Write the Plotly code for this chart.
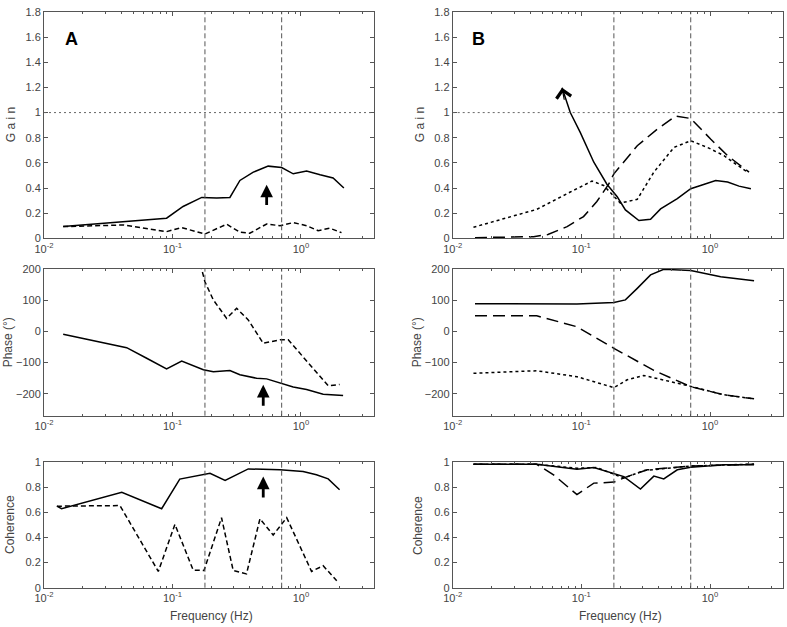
import plotly.graph_objects as go
import numpy as np

# band limits (Hz) marked with vertical dashed lines
bandLow = 0.179
bandHigh = 0.708

# x tick labels
xTickVals = [0.01, 0.1, 1]
xTickText = ["10<sup>-2</sup>", "10<sup>-1</sup>", "10<sup>0</sup>"]
xMinorVals = [0.02, 0.03, 0.04, 0.05, 0.06, 0.07, 0.08, 0.09, 0.2, 0.3, 0.4, 0.5, 0.6, 0.7, 0.8, 0.9, 2, 3]

# Panel A - gain
aGainSolidF = [0.0141, 0.0467, 0.090, 0.121, 0.169, 0.221, 0.28, 0.335, 0.426, 0.556, 0.708, 0.871, 1.107, 1.41, 1.78, 2.16]
aGainSolid = [0.093, 0.14, 0.16, 0.253, 0.325, 0.32, 0.325, 0.46, 0.526, 0.574, 0.563, 0.513, 0.536, 0.505, 0.48, 0.40]
aGainDashF = [0.0141, 0.0414, 0.090, 0.118, 0.179, 0.264, 0.335, 0.40, 0.541, 0.687, 0.871, 1.107, 1.36, 1.68, 2.07]
aGainDash = [0.093, 0.106, 0.053, 0.085, 0.034, 0.112, 0.048, 0.04, 0.114, 0.10, 0.125, 0.10, 0.061, 0.08, 0.045]

# Panel A - phase
aPhaseSolidF = [0.0141, 0.044, 0.063, 0.090, 0.118, 0.174, 0.208, 0.28, 0.335, 0.452, 0.541, 0.708, 0.871, 1.107, 1.49, 2.13]
aPhaseSolid = [-9, -52, -86, -120, -95, -123, -129, -125, -139, -150, -152, -168, -178, -186, -201, -205]
aPhaseDashF = [0.165, 0.179, 0.208, 0.264, 0.316, 0.389, 0.509, 0.687, 0.797, 1.63, 2.0]
aPhaseDash = [215, 159, 101, 42, 74, 37, -38, -27, -27, -174, -170]

# Panel A - coherence
aCohSolidF = [0.0126, 0.0137, 0.0403, 0.0824, 0.114, 0.196, 0.257, 0.335, 0.389, 0.687, 1.04, 1.32, 1.63, 2.0]
aCohSolid = [0.65, 0.63, 0.76, 0.63, 0.866, 0.913, 0.855, 0.913, 0.947, 0.94, 0.926, 0.90, 0.868, 0.781]
aCohDashF = [0.0126, 0.039, 0.0776, 0.1045, 0.145, 0.176, 0.241, 0.297, 0.377, 0.48, 0.608, 0.775, 1.21, 1.49, 1.9]
aCohDash = [0.65, 0.655, 0.13, 0.505, 0.14, 0.137, 0.558, 0.137, 0.11, 0.55, 0.42, 0.558, 0.13, 0.175, 0.055]

# Panel B - gain
bGainSolidF = [0.0708, 0.082, 0.098, 0.125, 0.158, 0.19, 0.22, 0.28, 0.345, 0.413, 0.557, 0.708, 1.107, 1.37, 1.68, 2.08]
bGainSolid = [1.197, 1.0, 0.842, 0.605, 0.43, 0.33, 0.226, 0.141, 0.152, 0.234, 0.315, 0.394, 0.46, 0.447, 0.415, 0.394]
bGainLongF = [0.0149, 0.0425, 0.055, 0.0775, 0.104, 0.132, 0.163, 0.179, 0.272, 0.389, 0.541, 0.708, 1.01, 1.37, 2.01]
bGainLong = [0.005, 0.013, 0.03, 0.093, 0.173, 0.293, 0.43, 0.513, 0.736, 0.868, 0.973, 0.953, 0.79, 0.657, 0.526]
bGainDotF = [0.0145, 0.045, 0.082, 0.121, 0.149, 0.201, 0.272, 0.366, 0.525, 0.708, 0.955, 1.285, 1.95]
bGainDot = [0.088, 0.23, 0.368, 0.455, 0.42, 0.28, 0.31, 0.526, 0.723, 0.776, 0.723, 0.657, 0.526]

# Panel B - phase
bPhaseSolidF = [0.0149, 0.0924, 0.179, 0.22, 0.272, 0.345, 0.437, 0.708, 1.21, 2.2]
bPhaseSolid = [89, 88, 93, 101, 138, 181, 199, 195, 175, 162]
bPhaseLongF = [0.0149, 0.045, 0.0924, 0.179, 0.366, 0.708, 1.285, 2.2]
bPhaseLong = [50, 50, 15, -54, -125, -177, -203, -216]
bPhaseDotF = [0.0145, 0.045, 0.0924, 0.179, 0.227, 0.306, 0.708, 1.285, 2.2]
bPhaseDot = [-134, -126, -145, -180, -155, -141, -176, -203, -216]

# Panel B - coherence
bCohSolidF = [0.0145, 0.045, 0.0924, 0.125, 0.214, 0.288, 0.366, 0.437, 0.557, 0.708, 1.285, 2.2]
bCohSolid = [0.984, 0.984, 0.945, 0.958, 0.886, 0.787, 0.89, 0.868, 0.94, 0.96, 0.98, 0.98]
bCohLongF = [0.0145, 0.045, 0.0608, 0.0924, 0.125, 0.179, 0.227, 0.325, 0.708, 2.2]
bCohLong = [0.984, 0.984, 0.9, 0.742, 0.834, 0.842, 0.886, 0.94, 0.97, 0.984]
bCohDotF = [0.0145, 0.045, 0.0924, 0.132, 0.214, 0.306, 0.708, 2.2]
bCohDot = [0.984, 0.984, 0.953, 0.958, 0.874, 0.934, 0.97, 0.986]

# arrows in panel A (frequency, tail value, head value)
aGainArrow = [0.541, 0.253, 0.426]
aPhaseArrow = [0.509, -243, -171]
aCohArrow = [0.509, 0.708, 0.886]

W, H = 787, 627
font = "Liberation Sans, Arial, sans-serif"
frame = "#555"

def px(v):
    return v / W

def py(v):
    return 1 - v / H

fig = go.Figure()

# subplot boxes in pixels -> paper fractions
colX = [(44, 373.5), (452.7, 782.7)]
rowY = [(12, 238.3), (269, 415.7), (462.3, 587.7)]
yRanges = [[0, 1.8], [-270, 200], [0, 1]]
yTicks = [[0, 0.2, 0.4, 0.6, 0.8, 1, 1.2, 1.4, 1.6, 1.8], [-200, -100, 0, 100, 200], [0, 0.2, 0.4, 0.6, 0.8, 1]]

axisStyle = dict(showline=True, linecolor=frame, linewidth=1, mirror="ticks", ticks="inside",
                 ticklen=4, tickcolor=frame, showgrid=False, zeroline=False, automargin=False,
                 ticklabeloverflow="allow", tickfont=dict(family=font, size=11, color="#444"))

n = 0
for c in range(2):
    for r in range(3):
        n += 1
        sfx = "" if n == 1 else str(n)
        fig.layout["xaxis" + sfx] = dict(axisStyle, type="log", range=[-2, 0.565],
                                        tickvals=xTickVals, ticktext=xTickText, anchor="y" + sfx,
                                        domain=[px(colX[c][0]), px(colX[c][1])],
                                        minor=dict(tickvals=xMinorVals, ticks="inside", ticklen=2,
                                                   tickcolor=frame, showgrid=False))
        fig.layout["yaxis" + sfx] = dict(axisStyle, range=yRanges[r], tickvals=yTicks[r], anchor="x" + sfx,
                                        domain=[py(rowY[r][1]), py(rowY[r][0])])

def addLine(x, y, ax, dash):
    fig.add_trace(go.Scatter(x=x, y=y, mode="lines", xaxis="x" + ax, yaxis="y" + ax,
                             line=dict(color="black", width=1.5, dash=dash), showlegend=False))

solid = "solid"
aDash = "5px,3px"
longDash = "12px,6px"
dotDash = "3px,3px"

addLine(aGainSolidF, aGainSolid, "", solid)
addLine(aGainDashF, aGainDash, "", aDash)
addLine(aPhaseSolidF, aPhaseSolid, "2", solid)
addLine(aPhaseDashF, aPhaseDash, "2", aDash)
addLine(aCohSolidF, aCohSolid, "3", solid)
addLine(aCohDashF, aCohDash, "3", aDash)

addLine(bGainSolidF, bGainSolid, "4", solid)
addLine(bGainLongF, bGainLong, "4", longDash)
addLine(bGainDotF, bGainDot, "4", dotDash)
addLine(bPhaseSolidF, bPhaseSolid, "5", solid)
addLine(bPhaseLongF, bPhaseLong, "5", longDash)
addLine(bPhaseDotF, bPhaseDot, "5", dotDash)
addLine(bCohSolidF, bCohSolid, "6", solid)
addLine(bCohLongF, bCohLong, "6", longDash)
addLine(bCohDotF, bCohDot, "6", dotDash)

# band lines and unity gain
for i in range(1, 7):
    sfx = "" if i == 1 else str(i)
    for f in [bandLow, bandHigh]:
        fig.add_shape(type="line", xref="x" + sfx, yref="y" + sfx + " domain", x0=f, x1=f, y0=0, y1=1,
                      line=dict(color="#555", width=1, dash="5px,3px"))
for sfx in ["", "4"]:
    fig.add_shape(type="line", xref="x" + sfx + " domain", yref="y" + sfx, x0=0, x1=1, y0=1, y1=1,
                  line=dict(color="#666", width=1, dash="2px,3px"))

# arrows (annotation coordinates on log axes are log10 values)
for arr, ax in [(aGainArrow, ""), (aPhaseArrow, "2"), (aCohArrow, "3")]:
    lx = np.log10(arr[0])
    fig.add_annotation(x=lx, y=arr[2], ax=lx, ay=arr[1], xref="x" + ax, yref="y" + ax,
                       axref="x" + ax, ayref="y" + ax, text="", showarrow=True,
                       arrowhead=2, arrowsize=0.9, arrowwidth=2.8, arrowcolor="black")

# open arrow head at the top of the B gain solid curve
fig.add_annotation(x=np.log10(bGainSolidF[0]), y=bGainSolid[0], ax=np.log10(0.074), ay=1.09,
                   xref="x4", yref="y4", axref="x4", ayref="y4", text="", showarrow=True,
                   arrowhead=4, arrowsize=2.4, arrowwidth=1.2, arrowcolor="black")

# axis titles and panel letters
labelFont = dict(family=font, size=12, color="#444")
yTitles = ["G a i n", "Phase (°)", "Coherence"]
titleX = [(11, 420), (8, 417), (10, 418)]
for r in range(3):
    yc = py((rowY[r][0] + rowY[r][1]) / 2)
    for c in range(2):
        fig.add_annotation(x=px(titleX[r][c]), y=yc, xref="paper", yref="paper", text=yTitles[r],
                           xanchor="center", yanchor="middle",
                           textangle=-90, showarrow=False, font=labelFont)
for xc in [212, 620]:
    fig.add_annotation(x=px(xc), y=py(616), xref="paper", yref="paper", text="Frequency (Hz)",
                       xanchor="center", yanchor="middle", showarrow=False, font=labelFont)
for txt, xc in [("A", 71), ("B", 478)]:
    fig.add_annotation(x=px(xc), y=py(39), xref="paper", yref="paper", text="<b>" + txt + "</b>",
                       xanchor="center", yanchor="middle",
                       showarrow=False, font=dict(family=font, size=18, color="black"))

fig.update_layout(width=W, height=H, margin=dict(l=0, r=0, t=0, b=0),
                  plot_bgcolor="white", paper_bgcolor="white", showlegend=False)

# drop the browser's default page margin so the figure sits at the corner
fig.write_html("out.html", config={"displayModeBar": False},
               post_script="document.body.style.margin='0';")
